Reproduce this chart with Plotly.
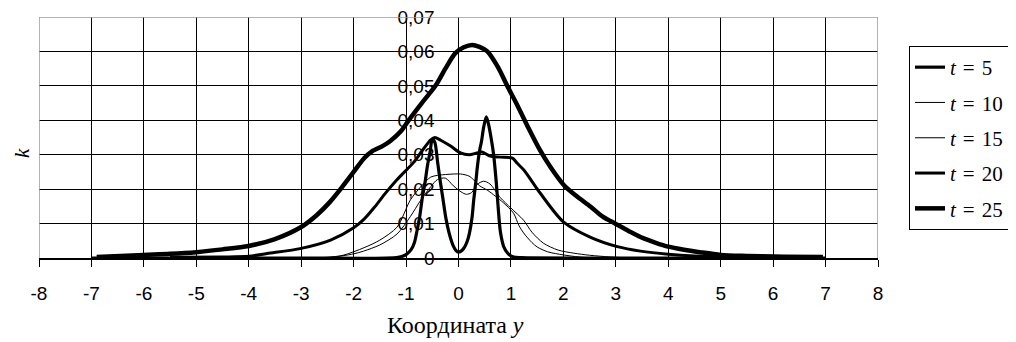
import plotly.graph_objects as go

# ---------------- data ----------------
x_t5 = [-7.0, -3.0, -1.15, -1.0, -0.9, -0.84, -0.79, -0.74, -0.69, -0.64, -0.59, -0.54, -0.5,
        -0.45, -0.4, -0.35, -0.3, -0.24, -0.18, -0.1, -0.05, 0.0, 0.1, 0.17, 0.21, 0.26,
        0.29, 0.33, 0.36, 0.4, 0.44, 0.48, 0.53, 0.57, 0.62, 0.67, 0.72, 0.76, 0.8, 0.87,
        0.95, 1.05, 1.2, 3.0, 7.0]
k_t5 = [0.0, 0.0, 0.0002, 0.001, 0.0025, 0.0045, 0.008, 0.012, 0.0175, 0.0218, 0.027, 0.031, 0.0345,
        0.0335, 0.028, 0.0225, 0.0175, 0.0115, 0.0073, 0.0035, 0.0022, 0.0017, 0.0028, 0.005, 0.0073, 0.012,
        0.0168, 0.022, 0.0265, 0.031, 0.034, 0.038, 0.041, 0.039, 0.035, 0.030, 0.022, 0.014, 0.0075, 0.003,
        0.0012, 0.0003, 0.0001, 0.0, 0.0]

x_t10 = [-3.3, -2.5, -2.0, -1.81, -1.5, -1.17, -0.92, -0.72, -0.53, -0.4, -0.25, -0.1, 0.05, 0.15,
         0.25, 0.35, 0.48, 0.6, 0.8, 1.0, 1.24, 1.4, 1.62, 1.9, 2.2, 2.5, 2.9, 3.3]
k_t10 = [0.0, 0.0001, 0.0012, 0.002, 0.0038, 0.007, 0.012, 0.0168, 0.0207, 0.0228, 0.0232, 0.021, 0.0192, 0.0185,
         0.019, 0.0213, 0.0223, 0.0215, 0.0175, 0.0145, 0.011, 0.0075, 0.0043, 0.0023, 0.0014, 0.0008, 0.0003, 0.0]

x_t15 = [-3.0, -2.5, -2.2, -1.8, -1.5, -1.17, -0.92, -0.72, -0.53, -0.4, -0.2, 0.04, 0.2, 0.29,
         0.4, 0.55, 0.7, 0.86, 1.05, 1.15, 1.24, 1.4, 1.5, 1.7, 2.0, 2.3, 2.6]
k_t15 = [0.0, 0.0002, 0.0008, 0.003, 0.0052, 0.009, 0.0168, 0.0207, 0.0235, 0.024, 0.0243, 0.0244, 0.0238, 0.0227,
         0.021, 0.0197, 0.018, 0.016, 0.013, 0.0095, 0.0073, 0.0045, 0.0032, 0.0018, 0.0009, 0.0003, 0.0]

x_t20 = [-5.5, -4.5, -4.0, -3.65, -3.0, -2.44, -2.0, -1.8, -1.6, -1.4, -1.17, -0.86, -0.7, -0.53,
         -0.45, -0.34, -0.15, 0.04, 0.2, 0.35, 0.45, 0.6, 0.8, 1.03, 1.12, 1.25, 1.56, 2.0, 2.52,
         3.03, 3.47, 4.0, 4.5, 5.0, 5.5]
k_t20 = [0.0002, 0.0003, 0.0005, 0.0013, 0.0028, 0.0052, 0.0088, 0.0113, 0.0148, 0.0187, 0.0228, 0.0277, 0.031, 0.0343,
         0.035, 0.0342, 0.0325, 0.0305, 0.030, 0.0305, 0.0308, 0.0296, 0.0293, 0.029, 0.0275, 0.0255, 0.0188, 0.0105, 0.006,
         0.0033, 0.002, 0.0011, 0.0006, 0.0004, 0.0002]

x_t25 = [-6.9, -6.0, -5.5, -5.0, -4.5, -4.0, -3.5, -3.0, -2.7, -2.45, -2.25, -2.0, -1.8, -1.65,
         -1.45, -1.3, -1.1, -0.95, -0.7, -0.44, -0.25, -0.06, 0.1, 0.26, 0.4, 0.55, 0.75, 0.93,
         1.1, 1.31, 1.53, 1.75, 2.02, 2.25, 2.52, 2.75, 3.0, 3.25, 3.47, 3.75, 4.0, 4.3, 4.6,
         5.0, 5.5, 6.0, 6.95]
k_t25 = [0.0003, 0.0009, 0.0012, 0.0017, 0.0025, 0.0035, 0.0055, 0.009, 0.0125, 0.0163, 0.020, 0.025, 0.029, 0.031,
         0.0325, 0.034, 0.0368, 0.040, 0.045, 0.050, 0.055, 0.0595, 0.0612, 0.0619, 0.0613, 0.060, 0.0555, 0.050,
         0.045, 0.0385, 0.032, 0.0265, 0.021, 0.018, 0.0149, 0.012, 0.0099, 0.0078, 0.0061, 0.0045, 0.0033, 0.0024, 0.0017,
         0.0009, 0.0006, 0.0004, 0.0003]

series_names = ["<i>t</i>\u2004=\u20045", "<i>t</i>\u2004=\u200410", "<i>t</i>\u2004=\u200415",
                "<i>t</i>\u2004=\u200420", "<i>t</i>\u2004=\u200425"]
x_tick_vals = list(range(-8, 9))
x_tick_text = [str(v) for v in x_tick_vals]
y_tick_vals = [0, 0.01, 0.02, 0.03, 0.04, 0.05, 0.06, 0.07]
y_tick_text = ["0", "0,01", "0,02", "0,03", "0,04", "0,05", "0,06", "0,07"]
x_title = "Координата <i>y</i>"
y_title = "<i>k</i>"

# ---------------- figure ----------------
series = [(x_t5, k_t5, 3.2), (x_t10, k_t10, 1.0), (x_t15, k_t15, 1.0),
          (x_t20, k_t20, 3.0), (x_t25, k_t25, 4.5)]

fig = go.Figure()
for i, (xs, ks, w) in enumerate(series):
    fig.add_trace(go.Scatter(
        x=xs, y=ks, mode="lines", name=series_names[i], legendgroup=f"g{i}",
        line=dict(color="#000000", width=w, shape="spline", smoothing=0.8),
        hoverinfo="skip"))

# the page body adds an 8 px offset; work in figure coordinates
OFF = 8
W, H = 1016 - OFF, 342 - OFF
ML, MT = 39 - OFF, 17 - OFF
MR = W - (878 - OFF)
MB = H - (258 - OFF)
PH = H - MT - MB
PW = W - ML - MR

fig.update_layout(
    width=W, height=H,
    margin=dict(l=ML, r=MR, t=MT, b=MB, pad=0, autoexpand=False),
    paper_bgcolor="white", plot_bgcolor="white",
    showlegend=True,
    legend=dict(
        xref="container", yref="container",
        x=(909 - OFF) / W, y=1 - (46 - OFF) / H, xanchor="left", yanchor="top",
        bgcolor="white", bordercolor="#000000", borderwidth=1,
        font=dict(family="Liberation Serif, Times New Roman, serif", size=21, color="#000"),
        tracegroupgap=5, itemwidth=30, maxheight=320),
    xaxis=dict(
        range=[-8, 8], tickvals=x_tick_vals, ticktext=x_tick_text,
        showgrid=True, gridcolor="#000000", gridwidth=1,
        zeroline=False, showline=True, linecolor="#000000", linewidth=2,
        ticks="outside", ticklen=7, tickcolor="#000000", tickwidth=1,
        tickfont=dict(family="Liberation Sans, Arial, sans-serif", size=19, color="#000"),
        ticklabelstandoff=10, layer="below traces", fixedrange=True, automargin=False),
    yaxis=dict(
        range=[0, 0.07], tickvals=y_tick_vals, ticktext=y_tick_text,
        anchor="free", position=0.5,
        showgrid=True, gridcolor="#000000", gridwidth=1,
        zeroline=False, showline=False, ticks="",
        tickfont=dict(family="Liberation Sans, Arial, sans-serif", size=19, color="#000"),
        ticklabelstandoff=24, ticklabeloverflow="allow",
        layer="below traces", fixedrange=True, automargin=False),
    shapes=[dict(type="path", xref="x", yref="y",
                 path="M -8,0 L -8,0.07 L 8,0.07 L 8,0",
                 line=dict(color="#9a9a9a", width=1.5), layer="above")],
    annotations=[
        dict(text=x_title, xref="x", yref="paper", x=-0.05, y=-(325 - 258) / PH,
             showarrow=False, xanchor="center", yanchor="middle",
             font=dict(family="Liberation Serif, Times New Roman, serif", size=24, color="#000")),
        dict(text=y_title, xref="paper", yref="paper", x=-(39 - OFF) / PW,
             y=(258 - 153) / PH, textangle=-90, showarrow=False,
             xanchor="left", yanchor="middle",
             font=dict(family="Liberation Serif, Times New Roman, serif", size=21, color="#000")),
    ],
)

fig.write_html("out.html")
